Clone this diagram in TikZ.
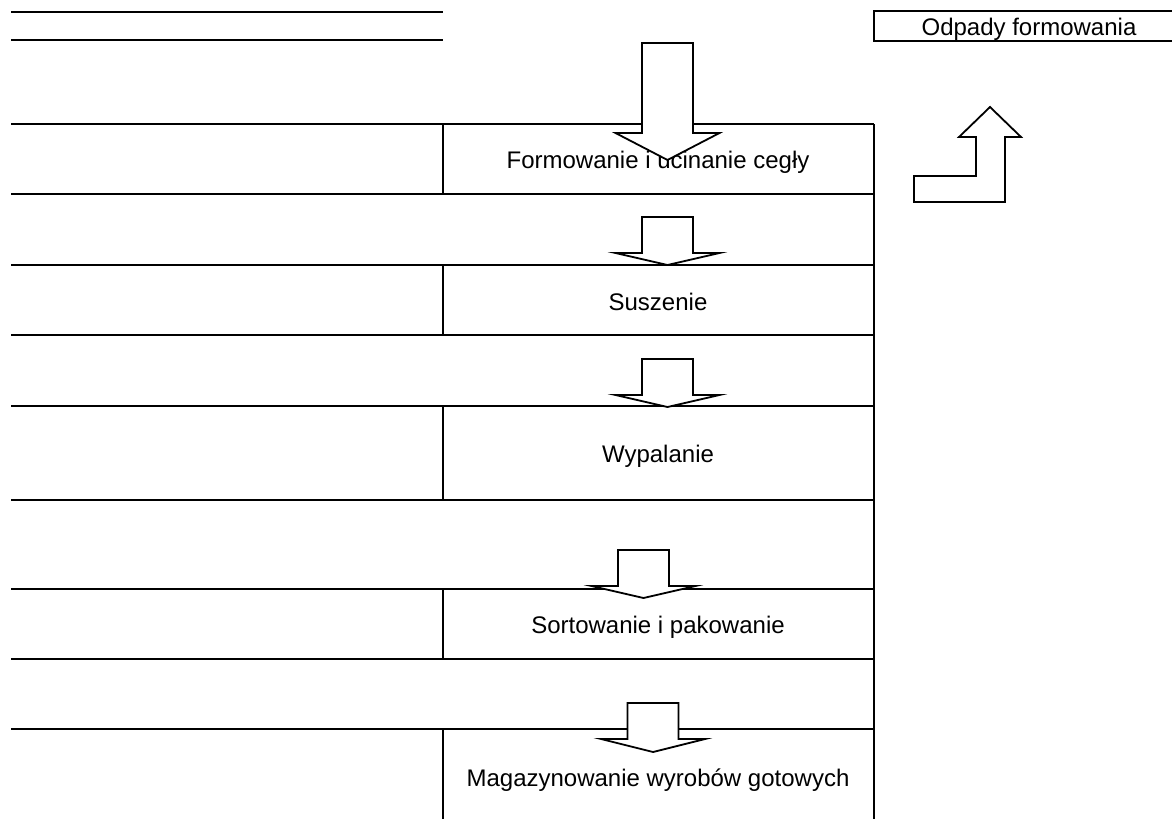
\documentclass[tikz,border=0pt]{standalone}
\usepackage{fontspec}
\setmainfont{Liberation Sans}
\usepackage{tikz}
\usetikzlibrary{calc}

\begin{document}
\begin{tikzpicture}[x=1pt,y=-1pt]
  \tikzset{line/.style = {line width=1.8pt}}
  \tikzset{label/.style = {font=\fontsize{24}{28}\selectfont, inner sep=0pt, anchor=base}}
  \tikzset{blockarrow/.style = {draw, fill=white, line width=1.8pt, line join=miter}}

  \useasboundingbox (0,0) rectangle (1172,819);

  % top lines
  \draw[line] (11,12) -- (443,12);
  \draw[line] (11,40) -- (443,40);

  % rows
  \foreach \yr in {124,265,335,406,500,589,659,729}
    \draw[line] (11,\yr) -- (874,\yr);
  \draw[line width=2.8pt] (11,194) -- (874,194);
  \draw[line] (874,124) -- (874,819);
  \foreach \ya/\yb in {124/194,265/335,406/500,589/659,729/819}
    \draw[line] (443,\ya) -- (443,\yb);

  % waste box
  \draw[line] (1172,11) -- (874,11) -- (874,41) -- (1172,41);
  \node[label] (odpady) at (1029,35) {Odpady formowania};

  \node[label] (form) at (658,168) {Formowanie i ucinanie cegły};
  \node[label] (susz) at (658,310) {Suszenie};
  \node[label] (wyp) at (658,462) {Wypalanie};
  \node[label] (sort) at (658,633) {Sortowanie i pakowanie};
  \node[label] (mag) at (658,786) {Magazynowanie wyrobów gotowych};

  % down arrows
  \foreach \xc/\ya/\yb/\yc in {667.5/43/133/160,667.5/217/253/265,667.5/359/395/407,643.5/550/586/598,653/703/739/752}
    \draw[blockarrow] (\xc-25.5,\ya) -- (\xc+25.5,\ya) -- (\xc+25.5,\yb) -- (\xc+52,\yb)
      -- (\xc,\yc) -- (\xc-52,\yb) -- (\xc-25.5,\yb) -- cycle;

  % bent arrow
  \draw[blockarrow] (914,202) -- (914,176) -- (976,176) -- (976,137) -- (959,137) -- (990,107)
    -- (1021,137) -- (1005,137) -- (1005,202) -- cycle;
\end{tikzpicture}
\end{document}
